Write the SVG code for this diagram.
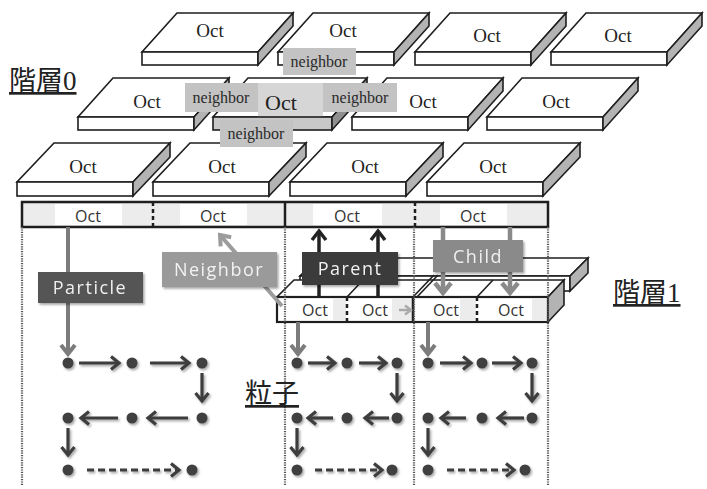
<svg xmlns="http://www.w3.org/2000/svg" width="707" height="489" viewBox="0 0 707 489">
<style>
.top{fill:#fff;stroke:#1e1e1e;stroke-width:1.6;stroke-linejoin:miter}
.front{fill:#fff;stroke:#1e1e1e;stroke-width:1.6}
.side{fill:#b3b3b3;stroke:#1e1e1e;stroke-width:1.6;stroke-linejoin:miter}
.so{font-family:"Liberation Serif","Noto Sans CJK JP",serif;font-size:19px;fill:#222;text-anchor:middle}
.nb rect{fill:#c3c3c3}
.nb text{font-family:"Liberation Serif",serif;font-size:16px;fill:#2a2a2a;text-anchor:middle}
.bo{font-family:"Open Sans","Liberation Sans",sans-serif;font-size:16px;fill:#333;text-anchor:middle}
.box text{font-family:"Open Sans","Liberation Sans",sans-serif;font-size:18px;letter-spacing:1.5px;text-anchor:middle}
.dot{fill:none;stroke:#555;stroke-width:2.2;stroke-dasharray:1.2 1.2}
.ch{stroke:#3d3d3d;stroke-width:3.2;fill:none}
.cd{fill:#404040}
.lbl{font-family:"Liberation Serif","Noto Sans CJK JP",serif;font-size:27px;fill:#222;text-decoration:underline}
</style>
<defs>
<filter id="sh" x="-30%" y="-30%" width="160%" height="160%"><feDropShadow dx="1.5" dy="1.8" stdDeviation="1.2" flood-color="#000" flood-opacity="0.35"/></filter>
<marker id="mD" markerUnits="userSpaceOnUse" viewBox="0 0 13 16" markerWidth="13" markerHeight="16" refX="10" refY="8" orient="auto"><path d="M2,1.5 L10,8 L2,14.5" fill="none" stroke="#3d3d3d" stroke-width="3.2"/></marker>
<marker id="mG" markerUnits="userSpaceOnUse" viewBox="0 0 14 18" markerWidth="14" markerHeight="18" refX="11" refY="9" orient="auto"><path d="M2,2 L11,9 L2,16" fill="none" stroke="#7c7c7c" stroke-width="4"/></marker>
<marker id="mL" markerUnits="userSpaceOnUse" viewBox="0 0 14 18" markerWidth="14" markerHeight="18" refX="11" refY="9" orient="auto"><path d="M2,2 L11,9 L2,16" fill="none" stroke="#9c9c9c" stroke-width="4"/></marker>
<marker id="mB" markerUnits="userSpaceOnUse" viewBox="0 0 14 18" markerWidth="14" markerHeight="18" refX="11" refY="9" orient="auto"><path d="M2,2 L11,9 L2,16" fill="none" stroke="#222" stroke-width="3.5"/></marker>
<marker id="mC" markerUnits="userSpaceOnUse" viewBox="0 0 16 20" markerWidth="16" markerHeight="20" refX="12" refY="10" orient="auto"><path d="M2,2 L12,10 L2,18" fill="none" stroke="#8a8a8a" stroke-width="4.5"/></marker>
<marker id="mS" markerUnits="userSpaceOnUse" viewBox="0 0 10 12" markerWidth="10" markerHeight="12" refX="8" refY="6" orient="auto"><path d="M2,1.5 L8,6 L2,10.5" fill="none" stroke="#aaa" stroke-width="2.5"/></marker>
</defs>
<rect width="707" height="489" fill="#fff"/>

<!-- Layer 0, row 1 -->
<g id="oct-r1-1"><polygon class="top" points="142,52 258,52 293,13 177,13"/><rect class="front" x="142" y="52" width="116" height="13"/><polygon class="side" points="258,52 293,13 293,26 258,65"/><text class="so" x="210" y="37">Oct</text></g>
<g id="oct-r1-2"><polygon class="top" points="278,52 394,52 429,13 313,13"/><rect class="front" x="278" y="52" width="116" height="13"/><polygon class="side" points="394,52 429,13 429,26 394,65"/><text class="so" x="343" y="37">Oct</text></g>
<g id="oct-r1-3"><polygon class="top" points="415,52 531,52 566,13 450,13"/><rect class="front" x="415" y="52" width="116" height="13"/><polygon class="side" points="531,52 566,13 566,26 531,65"/><text class="so" x="487" y="42">Oct</text></g>
<g id="oct-r1-4"><polygon class="top" points="551,52 667,52 702,13 586,13"/><rect class="front" x="551" y="52" width="116" height="13"/><polygon class="side" points="667,52 702,13 702,26 667,65"/><text class="so" x="618" y="42">Oct</text></g>

<!-- Layer 0, row 2 -->
<g id="oct-r2-1"><polygon class="top" points="78,117 194,117 229,78 113,78"/><rect class="front" x="78" y="117" width="116" height="13"/><polygon class="side" points="194,117 229,78 229,91 194,130"/><text class="so" x="147" y="108">Oct</text></g>
<g id="oct-r2-2"><polygon class="top" points="213,117 332,117 367,78 248,78"/><rect x="258" y="83" width="65" height="34" fill="#d6d6d6"/><rect class="front" x="213" y="117" width="119" height="13" style="fill:#c8c8c8"/><polygon class="side" points="332,117 367,78 367,91 332,130" style="fill:#8f8f8f"/><text class="so" x="281" y="110" style="font-size:22px">Oct</text></g>
<g id="oct-r2-3"><polygon class="top" points="352,117 468,117 503,78 387,78"/><rect class="front" x="352" y="117" width="116" height="13"/><polygon class="side" points="468,117 503,78 503,91 468,130"/><text class="so" x="423" y="108">Oct</text></g>
<g id="oct-r2-4"><polygon class="top" points="487,117 603,117 638,78 522,78"/><rect class="front" x="487" y="117" width="116" height="13"/><polygon class="side" points="603,117 638,78 638,91 603,130"/><text class="so" x="556" y="108">Oct</text></g>

<!-- Layer 0, row 3 -->
<g id="oct-r3-1"><polygon class="top" points="17,182 133,182 170,143 54,143"/><rect class="front" x="17" y="182" width="116" height="14"/><polygon class="side" points="133,182 170,143 170,157 133,196"/><text class="so" x="83" y="173">Oct</text></g>
<g id="oct-r3-2"><polygon class="top" points="153,182 269,182 306,143 190,143"/><rect class="front" x="153" y="182" width="116" height="14"/><polygon class="side" points="269,182 306,143 306,157 269,196"/><text class="so" x="222" y="173">Oct</text></g>
<g id="oct-r3-3"><polygon class="top" points="290,182 406,182 443,143 327,143"/><rect class="front" x="290" y="182" width="116" height="14"/><polygon class="side" points="406,182 443,143 443,157 406,196"/><text class="so" x="365" y="173">Oct</text></g>
<g id="oct-r3-4"><polygon class="top" points="427,182 543,182 580,143 464,143"/><rect class="front" x="427" y="182" width="116" height="14"/><polygon class="side" points="543,182 580,143 580,157 543,196"/><text class="so" x="493" y="173">Oct</text></g>

<!-- neighbor labels -->
<g id="nb-top" class="nb"><rect x="283" y="48" width="73" height="27"/><text x="319" y="67">neighbor</text></g>
<g id="nb-left" class="nb"><rect x="185" y="83" width="73" height="29"/><text x="221" y="103">neighbor</text></g>
<g id="nb-right" class="nb"><rect x="323" y="83" width="74" height="29"/><text x="360" y="103">neighbor</text></g>
<g id="nb-bottom" class="nb"><rect x="220" y="120" width="73" height="27"/><text x="256" y="139">neighbor</text></g>

<!-- Layer 1 bar -->
<g id="bar">
<rect x="22" y="202" width="526" height="25" fill="#ececec"/>
<rect x="55" y="204" width="67" height="21" fill="#fff"/>
<rect x="180" y="204" width="67" height="21" fill="#fff"/>
<rect x="313" y="204" width="69" height="21" fill="#fff"/>
<rect x="440" y="204" width="67" height="21" fill="#fff"/>
<rect x="22" y="202" width="526" height="25" fill="none" stroke="#1e1e1e" stroke-width="2.5"/>
<line x1="153" y1="202" x2="153" y2="227" stroke="#1e1e1e" stroke-width="2.5" stroke-dasharray="4 3"/>
<line x1="285" y1="202" x2="285" y2="227" stroke="#1e1e1e" stroke-width="2.5"/>
<line x1="415" y1="202" x2="415" y2="227" stroke="#1e1e1e" stroke-width="2.5" stroke-dasharray="4 3"/>
<text class="bo" x="88" y="222">Oct</text>
<text class="bo" x="213" y="222">Oct</text>
<text class="bo" x="347" y="222">Oct</text>
<text class="bo" x="473" y="222">Oct</text>
</g>

<!-- lower children slabs -->
<g id="child-back">
<polygon class="top" points="300,276 570,276 588,258 318,258"/>
<rect class="front" x="300" y="276" width="270" height="15"/>
<polygon class="side" points="570,276 588,258 588,273 570,291"/>
</g>
<g id="child-front">
<polygon class="top" points="277,297 548,297 564,280 294,280"/>
<rect class="front" x="277" y="297" width="271" height="25"/>
<rect x="333" y="299" width="13" height="21" fill="#ececec"/>
<rect x="392" y="299" width="20" height="21" fill="#ececec"/>
<rect x="460" y="299" width="16" height="21" fill="#ececec"/>
<rect x="532" y="299" width="15" height="21" fill="#ececec"/>
<rect x="277" y="297" width="271" height="25" fill="none" stroke="#1e1e1e" stroke-width="2.2"/>
<polygon class="side" points="548,297 564,280 564,305 548,322"/>
<line x1="347" y1="297" x2="347" y2="322" stroke="#1e1e1e" stroke-width="2.5" stroke-dasharray="4 3"/>
<line x1="413" y1="297" x2="413" y2="322" stroke="#1e1e1e" stroke-width="2.5"/>
<line x1="477" y1="297" x2="477" y2="322" stroke="#1e1e1e" stroke-width="2.5" stroke-dasharray="4 3"/>
<line x1="347" y1="297" x2="363" y2="280" stroke="#1e1e1e" stroke-width="1.6"/>
<line x1="413" y1="297" x2="434" y2="275" stroke="#1e1e1e" stroke-width="1.6"/>
<line x1="417" y1="297" x2="438" y2="275" stroke="#1e1e1e" stroke-width="1.6"/>
<line x1="477" y1="297" x2="493" y2="280" stroke="#1e1e1e" stroke-width="1.6"/>
<text class="bo" x="315" y="316">Oct</text>
<text class="bo" x="375" y="316">Oct</text>
<text class="bo" x="446" y="316">Oct</text>
<text class="bo" x="511" y="316">Oct</text>
</g>

<!-- column separators -->
<g id="separators">
<line class="dot" x1="22" y1="227" x2="22" y2="485"/>
<line class="dot" x1="285" y1="227" x2="285" y2="485"/>
<line class="dot" x1="414" y1="227" x2="414" y2="485"/>
<line class="dot" x1="548" y1="227" x2="548" y2="485"/>
</g>

<!-- connectors -->
<g id="connectors" fill="none">
<line x1="68" y1="227" x2="68" y2="354" stroke="#7c7c7c" stroke-width="4" marker-end="url(#mG)"/>
<line x1="282" y1="306" x2="220" y2="235" stroke="#9c9c9c" stroke-width="4" marker-end="url(#mL)"/>
<line x1="319" y1="297" x2="319" y2="231" stroke="#222" stroke-width="3.5" marker-end="url(#mB)"/>
<line x1="378" y1="297" x2="378" y2="231" stroke="#222" stroke-width="3.5" marker-end="url(#mB)"/>
<line x1="443" y1="227" x2="443" y2="293" stroke="#8a8a8a" stroke-width="4.5" marker-end="url(#mC)"/>
<line x1="510" y1="227" x2="510" y2="293" stroke="#8a8a8a" stroke-width="4.5" marker-end="url(#mC)"/>
<line x1="399" y1="310" x2="411" y2="310" stroke="#aaa" stroke-width="2.5" marker-end="url(#mS)"/>
<line x1="298" y1="322" x2="298" y2="354" stroke="#7c7c7c" stroke-width="4" marker-end="url(#mG)"/>
<line x1="428" y1="322" x2="428" y2="354" stroke="#7c7c7c" stroke-width="4" marker-end="url(#mG)"/>
</g>

<!-- boxes -->
<g id="particle" class="box" filter="url(#sh)"><rect x="38" y="272" width="105" height="31" fill="#555"/><text x="90" y="294" fill="#f0f0f0">Particle</text></g>
<g id="neighbor" class="box" filter="url(#sh)"><rect x="162" y="252" width="115" height="35" fill="#9a9a9a"/><text x="219" y="276" fill="#f2f2f2">Neighbor</text></g>
<g id="parent" class="box" filter="url(#sh)"><rect x="302" y="252" width="96" height="33" fill="#3a3a3a"/><text x="350" y="275" fill="#f2f2f2">Parent</text></g>
<g id="child" class="box" filter="url(#sh)"><rect x="433" y="240" width="90" height="32" fill="#8a8a8a"/><text x="478" y="263" fill="#f0f0f0">Child</text></g>

<!-- particle chains -->
<g id="particles" filter="url(#sh)">
<g class="cd">
<circle cx="68" cy="363" r="5.5"/><circle cx="132" cy="363" r="5.5"/><circle cx="202" cy="363" r="5.5"/>
<circle cx="68" cy="418" r="5.5"/><circle cx="132" cy="418" r="5.5"/><circle cx="202" cy="418" r="5.5"/>
<circle cx="68" cy="470" r="5.5"/><circle cx="192" cy="470" r="5.5"/>
<circle cx="297" cy="363" r="5.5"/><circle cx="347" cy="363" r="5.5"/><circle cx="397" cy="363" r="5.5"/>
<circle cx="297" cy="418" r="5.5"/><circle cx="347" cy="418" r="5.5"/><circle cx="397" cy="418" r="5.5"/>
<circle cx="297" cy="470" r="5.5"/><circle cx="392" cy="470" r="5.5"/>
<circle cx="428" cy="363" r="5.5"/><circle cx="482" cy="363" r="5.5"/><circle cx="532" cy="363" r="5.5"/>
<circle cx="428" cy="418" r="5.5"/><circle cx="482" cy="418" r="5.5"/><circle cx="532" cy="418" r="5.5"/>
<circle cx="428" cy="470" r="5.5"/><circle cx="525" cy="470" r="5.5"/>
</g>
<g class="ch">
<line x1="79" y1="363" x2="119" y2="363" marker-end="url(#mD)"/>
<line x1="150" y1="363" x2="189" y2="363" marker-end="url(#mD)"/>
<line x1="202" y1="373" x2="202" y2="401" marker-end="url(#mD)"/>
<line x1="188" y1="418" x2="148" y2="418" marker-end="url(#mD)"/>
<line x1="118" y1="418" x2="81" y2="418" marker-end="url(#mD)"/>
<line x1="68" y1="428" x2="68" y2="455" marker-end="url(#mD)"/>
<line x1="87" y1="470" x2="179" y2="470" stroke-dasharray="7 4" marker-end="url(#mD)"/>

<line x1="308" y1="363" x2="335" y2="363" marker-end="url(#mD)"/>
<line x1="359" y1="363" x2="386" y2="363" marker-end="url(#mD)"/>
<line x1="397" y1="373" x2="397" y2="401" marker-end="url(#mD)"/>
<line x1="389" y1="418" x2="365" y2="418" marker-end="url(#mD)"/>
<line x1="333" y1="418" x2="308" y2="418" marker-end="url(#mD)"/>
<line x1="297" y1="428" x2="297" y2="455" marker-end="url(#mD)"/>
<line x1="315" y1="470" x2="382" y2="470" stroke-dasharray="7 4" marker-end="url(#mD)"/>

<line x1="440" y1="363" x2="471" y2="363" marker-end="url(#mD)"/>
<line x1="492" y1="363" x2="521" y2="363" marker-end="url(#mD)"/>
<line x1="532" y1="373" x2="532" y2="401" marker-end="url(#mD)"/>
<line x1="524" y1="418" x2="498" y2="418" marker-end="url(#mD)"/>
<line x1="466" y1="418" x2="441" y2="418" marker-end="url(#mD)"/>
<line x1="428" y1="428" x2="428" y2="455" marker-end="url(#mD)"/>
<line x1="447" y1="470" x2="514" y2="470" stroke-dasharray="7 4" marker-end="url(#mD)"/>
</g>
</g>

<!-- captions -->
<text class="lbl" x="9" y="90">階層0</text>
<text class="lbl" x="613" y="302">階層1</text>
<text class="lbl" x="245" y="403">粒子</text>
</svg>
